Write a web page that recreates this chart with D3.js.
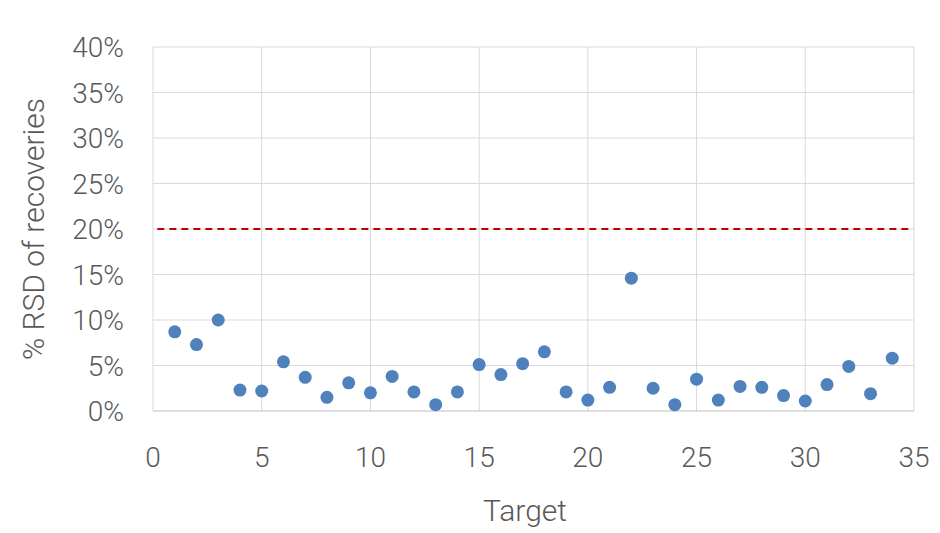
<!DOCTYPE html><html><head><meta charset="utf-8"><script src="https://cdn.jsdelivr.net/npm/d3@7"></script>
<style>body{margin:0;background:#fff}text{font-family:Roboto,"Open Sans",sans-serif;font-weight:300;fill:#595959}</style></head><body><svg width="940" height="533"></svg><script>
const targets=d3.range(1,35);
const rsd=[8.7,7.3,10.0,2.3,2.2,5.4,3.7,1.5,3.1,2.0,3.8,2.1,0.7,2.1,5.1,4.0,5.2,6.5,2.1,1.2,2.6,14.6,2.5,0.7,3.5,1.2,2.7,2.6,1.7,1.1,2.9,4.9,1.9,5.8];
const xTicks=[0,5,10,15,20,25,30,35];
const yTicks=[0,5,10,15,20,25,30,35,40];
const limit=20;
const svg=d3.select("svg");
const x=d3.scaleLinear().domain([0,35]).range([153,914]);
const y=d3.scaleLinear().domain([0,40]).range([411,47]);
const g=svg.append("g");
g.selectAll(".v").data(xTicks).join("line").attr("x1",d=>x(d)).attr("x2",d=>x(d)).attr("y1",y(0)).attr("y2",y(40)).attr("stroke","#d9d9d9");
g.selectAll(".h").data(yTicks).join("line").attr("x1",x(0)).attr("x2",x(35)).attr("y1",d=>y(d)).attr("y2",d=>y(d)).attr("stroke",d=>d==0?"#bfbfbf":"#d9d9d9");
g.selectAll(".xt").data(xTicks).join("text").attr("x",d=>x(d)).attr("y",467).attr("text-anchor","middle").attr("font-size",28).text(d=>d);
g.selectAll(".yt").data(yTicks).join("text").attr("x",124).attr("y",d=>y(d)+10).attr("text-anchor","end").attr("font-size",28).text(d=>d+"%");
g.append("line").attr("x1",x(0.2)).attr("x2",x(34.8)).attr("y1",y(limit)).attr("y2",y(limit)).attr("stroke","#c00000").attr("stroke-width",2).attr("stroke-dasharray","7,5");
g.selectAll("circle").data(targets).join("circle").attr("cx",d=>x(d)).attr("cy",(d,i)=>y(rsd[i])).attr("r",6.5).attr("fill","#4f81bd");
svg.append("text").attr("x",525).attr("y",521).attr("text-anchor","middle").attr("font-size",30).text("Target");
svg.append("text").attr("transform","translate(44,229) rotate(-90)").attr("text-anchor","middle").attr("font-size",30).text("% RSD of recoveries");
</script></body></html>
